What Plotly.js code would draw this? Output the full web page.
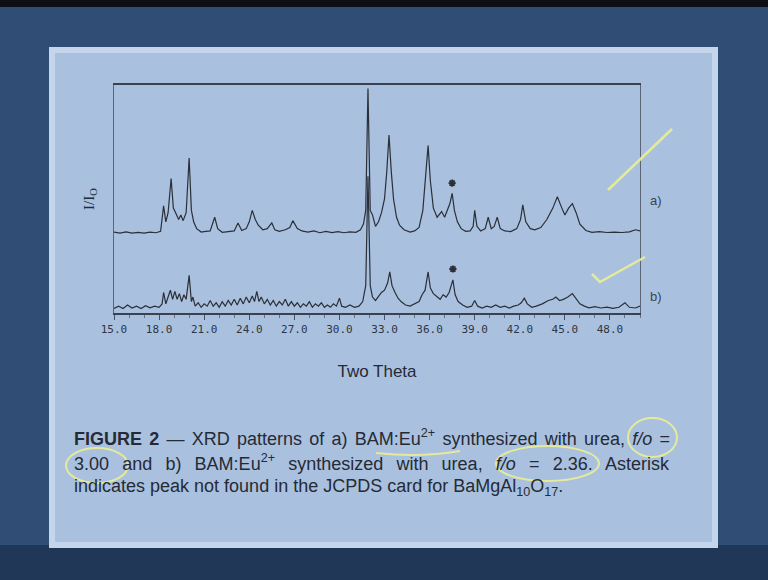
<!DOCTYPE html>
<html>
<head>
<meta charset="utf-8">
<script src="https://cdn.plot.ly/plotly-3.0.1.min.js"></script>
<style>html,body{margin:0;padding:0;background:#2e4a70;}#chart{width:768px;height:580px;}</style>
</head>
<body>
<div id="chart"></div>
<script>
// ---- Data (2θ in degrees, intensity in arbitrary offset units) ----
const patternATheta = [15.0,15.4,15.8,16.2,16.6,17.0,17.4,17.8,18.1,18.3,18.45,18.6,18.8,18.95,19.1,19.3,19.45,19.6,19.8,20.0,20.15,20.3,20.5,20.8,21.1,21.4,21.7,21.9,22.2,22.6,23.0,23.25,23.5,23.8,24.0,24.2,24.4,24.6,24.9,25.2,25.5,25.7,26.0,26.4,26.7,26.9,27.2,27.5,27.9,28.3,28.7,29.1,29.5,29.9,30.3,30.7,31.1,31.4,31.6,31.75,31.9,32.05,32.2,32.4,32.6,32.8,33.0,33.15,33.3,33.45,33.6,33.8,34.0,34.3,34.7,35.0,35.3,35.55,35.75,35.9,36.05,36.25,36.5,36.8,37.0,37.2,37.35,37.5,37.65,37.85,38.1,38.4,38.7,38.9,39.0,39.15,39.4,39.7,39.9,40.1,40.3,40.5,40.7,41.0,41.4,41.8,42.05,42.2,42.4,42.7,43.0,43.4,43.8,44.2,44.5,44.8,45.0,45.25,45.5,45.75,46.0,46.4,46.8,47.3,47.8,48.3,48.8,49.3,49.7,50.0];
const patternAInt = [35.5,35,35.6,35,35.4,35,35.5,35.2,35.8,47,40,44,59,46,44,41,43,40.5,44,68,45,40,37,35.5,35.8,36,42,37,35.4,35.8,36,39.5,36.2,37,40,45,41,38.5,36.5,37,39.5,36.5,35.8,36.5,37.5,40.5,37,36,35.5,36,35.2,35.8,35.3,35.7,35.2,35.6,35.4,36.5,39,45,98.5,45,43,38,40,44,50,62,78,62,50,42,38.5,36.5,35.5,36,37.5,45,60,73.5,58,46,42,44.5,42,45,48,52.5,45,40,37,35.8,36,38,45,38,36,37,42,37,38,42,37,36,35.7,37,41,47.4,40,37,36.5,37.5,41,46,51,46,43,46,48,44,39,36.2,35.4,35.7,35.3,35.5,35.3,35.6,36.5,36];

const patternBTheta = [15.0,15.3,15.6,15.9,16.2,16.5,16.8,17.1,17.4,17.7,18.0,18.2,18.3,18.45,18.6,18.75,18.9,19.05,19.2,19.35,19.5,19.65,19.8,20.0,20.15,20.25,20.4,20.6,20.8,21.0,21.2,21.4,21.6,21.8,22.0,22.2,22.4,22.6,22.8,23.0,23.2,23.4,23.6,23.8,24.0,24.2,24.35,24.5,24.65,24.8,25.0,25.2,25.4,25.6,25.8,26.0,26.2,26.4,26.6,26.8,27.0,27.2,27.4,27.6,27.8,28.0,28.2,28.4,28.6,28.8,29.0,29.2,29.4,29.6,29.8,30.0,30.15,30.4,30.7,31.0,31.3,31.55,31.75,31.9,32.05,32.2,32.4,32.6,32.8,33.0,33.2,33.35,33.5,33.7,33.9,34.1,34.4,34.7,35.0,35.3,35.5,35.7,35.9,36.05,36.25,36.5,36.7,36.9,37.1,37.3,37.55,37.7,37.9,38.2,38.5,38.8,39.0,39.2,39.5,39.8,40.1,40.4,40.7,41.0,41.3,41.6,41.9,42.1,42.3,42.5,42.8,43.1,43.5,43.9,44.2,44.4,44.65,44.9,45.2,45.5,45.75,46.0,46.3,46.6,47.0,47.4,47.8,48.2,48.6,49.0,49.3,49.7,50.0];
const patternBInt = [2,3,2,3.5,2.2,3,2,3.2,2.3,3,2.5,4,9,4,7,10,6,9.5,6,8.5,5,8,6,16.5,5,7,3,4.5,2.5,4,3,5.5,3,4.5,2.5,5,3,5.5,3.5,6,3.5,6.5,4,7,4.5,7.5,5,9.5,5,7,4,6,3.5,5.5,3,5,3.5,6,3,5,3,4.5,2.5,4,3,5,2.5,4,3,4.5,2.5,3.5,2.5,4,3,6.5,3,2.5,3.5,2.5,3,5,12,60,12,7,5.5,7,9,10,13,18,12,9,6.5,5,3.5,3,4,5,8,10,18,11,8.5,7,6,8,7,9,14.5,8,5,3.5,2.5,3,5.5,3,2.2,3,2.5,3.5,2.5,3,2.2,3,3.5,4.5,6.5,4,2.5,3,4,5.5,6,7,5.5,6,7,8.5,6,4,3,2.3,2.8,2.2,2.6,2,2.5,4.5,2.5,2.2,3];

// asterisk-marked peak (not in JCPDS card)
const asteriskTheta = [37.5, 37.55];
const asteriskInt = [57, 19.3];

const patternLabels = ["a)", "b)"];
const xTitle = "Two Theta";
const yTitle = "I/I<sub>O</sub>";
const captionLines = [
  "<b>FIGURE 2</b> — XRD patterns of a) BAM:Eu<sup>2+</sup> synthesized with urea, <i>f/o</i> =",
  "3.00 and b) BAM:Eu<sup>2+</sup> synthesized with urea, <i>f/o</i> = 2.36. Asterisk",
  "indicates peak not found in the JCPDS card for BaMgAl<sub>10</sub>O<sub>17</sub>."
];

// ---- layout helpers (pixel -> paper) ----
const W = 768, H = 580, L = 114, R = 640, T = 85, B = 313;
const px = x => (x - L) / (R - L);
const py = y => (B - y) / (B - T);

const lineColor = '#2b2f38';
const traces = [
  {x: patternATheta, y: patternAInt, type: 'scatter', mode: 'lines', line: {color: lineColor, width: 1.2}, hoverinfo: 'skip', showlegend: false},
  {x: patternBTheta, y: patternBInt, type: 'scatter', mode: 'lines', line: {color: lineColor, width: 1.2}, hoverinfo: 'skip', showlegend: false},
  {x: asteriskTheta, y: asteriskInt, type: 'scatter', mode: 'markers', marker: {symbol: 'asterisk-open', size: 6, color: lineColor, line: {color: lineColor, width: 1.8}}, hoverinfo: 'skip', showlegend: false}
];

const yellow = 'rgba(232,236,150,0.95)';
const shapes = [
  // slide frame
  {type: 'rect', xref: 'paper', yref: 'paper', x0: px(0), x1: px(W), y0: py(H), y1: py(0), fillcolor: '#2f4d75', line: {width: 0}, layer: 'below'},
  {type: 'rect', xref: 'paper', yref: 'paper', x0: px(0), x1: px(W), y0: py(H), y1: py(545), fillcolor: '#213757', line: {width: 0}, layer: 'below'},
  {type: 'rect', xref: 'paper', yref: 'paper', x0: px(0), x1: px(W), y0: py(7), y1: py(0), fillcolor: '#0d0f14', line: {width: 0}, layer: 'below'},
  // light panel
  {type: 'rect', xref: 'paper', yref: 'paper', x0: px(52), x1: px(715), y0: py(545), y1: py(50), fillcolor: '#a9c1df', line: {color: '#c4d5ec', width: 6}, layer: 'below'},
  // yellow pen annotations
  {type: 'path', xref: 'paper', yref: 'paper', path: `M ${px(608)} ${py(190)} L ${px(672)} ${py(129)}`, line: {color: yellow, width: 2.5}},
  {type: 'path', xref: 'paper', yref: 'paper', path: `M ${px(592)} ${py(274)} L ${px(600)} ${py(282)} L ${px(645)} ${py(257)}`, line: {color: yellow, width: 2.5}},
  {type: 'circle', xref: 'paper', yref: 'paper', x0: px(628), x1: px(677), y0: py(457), y1: py(418), line: {color: yellow, width: 2}},
  {type: 'circle', xref: 'paper', yref: 'paper', x0: px(66), x1: px(128), y0: py(483), y1: py(448), line: {color: yellow, width: 2}},
  {type: 'circle', xref: 'paper', yref: 'paper', x0: px(496), x1: px(599), y0: py(481), y1: py(446), line: {color: yellow, width: 2}},
  {type: 'path', xref: 'paper', yref: 'paper', path: `M ${px(376)} ${py(453)} Q ${px(420)} ${py(458)} ${px(460)} ${py(451)}`, line: {color: yellow, width: 2}}
];

const annotations = [
  {xref: 'paper', yref: 'paper', x: px(648), y: py(200), text: patternLabels[0], showarrow: false, xanchor: 'left', yanchor: 'middle', font: {family: 'Liberation Sans, Arial, sans-serif', size: 13, color: '#3c4350'}},
  {xref: 'paper', yref: 'paper', x: px(648), y: py(296), text: patternLabels[1], showarrow: false, xanchor: 'left', yanchor: 'middle', font: {family: 'Liberation Sans, Arial, sans-serif', size: 13, color: '#3c4350'}}
];
const capY = [437, 462, 487];
captionLines.forEach((t, i) => annotations.push({
  xref: 'paper', yref: 'paper', x: px(72), y: py(capY[i]), text: t, showarrow: false,
  xanchor: 'left', yanchor: 'middle', align: 'left',
  font: {family: 'Liberation Sans, Arial, sans-serif', size: 18, color: '#262a35'}
}));

const layout = {
  width: W, height: H,
  margin: {l: L, r: W - R, t: T, b: H - B, pad: 0},
  paper_bgcolor: '#2f4d75',
  plot_bgcolor: 'rgba(0,0,0,0)',
  showlegend: false,
  xaxis: {
    range: [15, 50], tick0: 15, dtick: 3, tickformat: '.1f',
    ticks: 'outside', ticklen: 5, tickwidth: 1, tickcolor: '#4a5262',
    minor: {dtick: 1, ticks: 'outside', ticklen: 3, tickcolor: '#6a7282'},
    showline: true, mirror: true, linecolor: '#3a4150', linewidth: 2,
    showgrid: false, zeroline: false,
    tickfont: {family: 'DejaVu Sans Mono, Liberation Mono, monospace', size: 11, color: '#30353f'},
    title: {text: xTitle, standoff: 30, font: {family: 'Liberation Sans, Arial, sans-serif', size: 17, color: '#262a35'}}
  },
  yaxis: {
    range: [0, 100], showline: true, mirror: true, linecolor: '#5a6475', linewidth: 1,
    showgrid: false, zeroline: false, ticks: '', showticklabels: false,
    title: {text: yTitle, standoff: 14, font: {family: 'Liberation Serif, serif', size: 15, color: '#262a35'}}
  },
  shapes: shapes,
  annotations: annotations
};

// justify the first two caption lines (the reference caption is a justified paragraph)
const justifyTo = 668 - 72;
Plotly.newPlot('chart', traces, layout, {displayModeBar: false, staticPlot: true}).then(gd => {
  [2, 3].forEach(idx => {
    const el = gd.querySelector(`g.annotation[data-index="${idx}"] text.annotation-text`);
    if (!el) return;
    const w = el.getBBox().width;
    const spaces = (el.textContent.match(/ /g) || []).length;
    if (spaces > 0 && w < justifyTo) el.style.wordSpacing = ((justifyTo - w) / spaces).toFixed(2) + 'px';
  });
});
</script>
</body>
</html>
